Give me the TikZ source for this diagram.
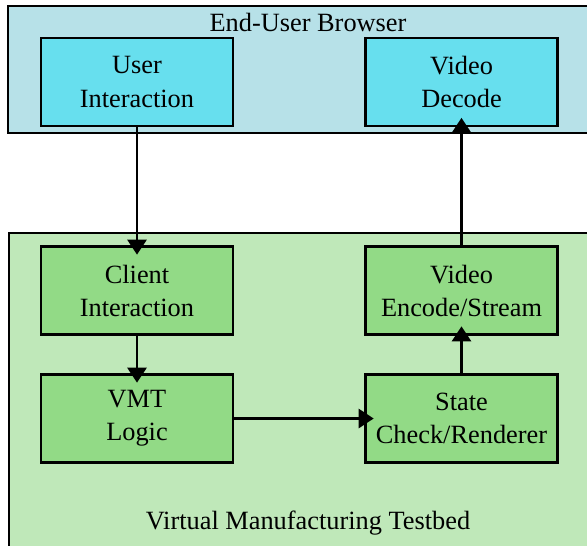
\documentclass[tikz,border=0pt]{standalone}
\usepackage{fontspec}
\setmainfont{Liberation Serif}
\usetikzlibrary{arrows.meta,positioning}
\definecolor{browser}{HTML}{B7E1E8}
\definecolor{browserbox}{HTML}{67DFEE}
\definecolor{testbed}{HTML}{BFE8B9}
\definecolor{testbedbox}{HTML}{92DA86}

\tikzset{
  label text/.style={font=\fontsize{15}{18.8}\selectfont},
  block/.style={label text,draw=black,line width=1.5pt,minimum width=3.84cm,minimum height=1.76cm,align=center},
  region/.style={draw=black,line width=1.5pt},
  flow/.style={line width=1.5pt,-{Triangle[width=0.38cm,length=0.3cm]},shorten >=-0.19cm}
}

\begin{document}
\begin{tikzpicture}[x=0.02cm,y=-0.02cm]
  \useasboundingbox (0,0) rectangle (587,545);
  \clip (0,0) rectangle (587,545);

  % Browser side
  \draw[region,fill=browser] (8,6) rectangle (610,133);
  \node[label text] (browsertitle) at (308,22) {End-User Browser};
  \node[block,fill=browserbox] (user) at (137,82) {User\\Interaction};
  \node[block,fill=browserbox] (decode) at (461.5,82) {Video\\Decode};

  % Testbed side
  \draw[region,fill=testbed] (9,233) rectangle (610,570);
  \node[label text] (testbedtitle) at (308,523) {Virtual Manufacturing Testbed};
  \node[block,fill=testbedbox] (client) at (137,290.5) {Client\\Interaction};
  \node[block,fill=testbedbox] (logic) at (137,418.5) {VMT\\Logic};
  \node[block,fill=testbedbox] (encode) at (461.5,290.5) {Video\\Encode/Stream};
  \node[block,fill=testbedbox] (render) at (461.5,418.5) {State\\Check/Renderer};

  % Data flow
  \draw[flow] (user) -- (client);
  \draw[flow] (client) -- (logic);
  \draw[flow] (logic) -- (render);
  \draw[flow] (render) -- (encode);
  \draw[flow] (encode) -- (decode);
\end{tikzpicture}
\end{document}
